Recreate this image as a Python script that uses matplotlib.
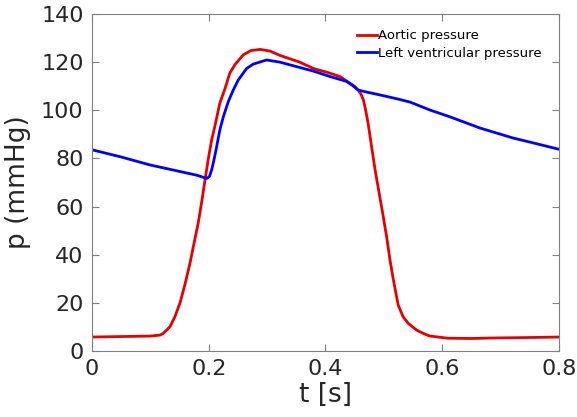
import matplotlib
matplotlib.use("Agg")
import matplotlib.pyplot as plt

# values
t_aortic = [0.0, 0.05, 0.10, 0.1165, 0.122, 0.128, 0.1336, 0.142, 0.1507, 0.159,
            0.168, 0.1736, 0.182, 0.188, 0.1936, 0.199, 0.205, 0.211, 0.219, 0.228,
            0.236, 0.245, 0.259, 0.272, 0.288, 0.305, 0.322, 0.356, 0.379, 0.408,
            0.425, 0.442, 0.450, 0.456, 0.461, 0.465, 0.469, 0.473, 0.479, 0.485,
            0.492, 0.499, 0.505, 0.511, 0.516, 0.5245, 0.533, 0.5417, 0.556, 0.5674,
            0.579, 0.61, 0.65, 0.687, 0.75, 0.8]
p_aortic = [5.8, 6.0, 6.2, 6.6, 7.3, 8.7, 10.1, 14.2, 19.9, 27.4,
            36.6, 43.3, 53.2, 62.0, 71.0, 79.4, 87.7, 93.9, 103.0, 109.1,
            115.4, 119.0, 123.0, 124.8, 125.3, 124.6, 122.8, 120.0, 117.4, 115.4,
            114.0, 111.2, 109.9, 108.4, 106.6, 104.3, 99.8, 94.6, 84.9, 75.2,
            65.5, 55.8, 47.0, 37.0, 30.0, 19.1, 14.2, 11.5, 8.7, 7.3,
            6.2, 5.3, 5.2, 5.4, 5.6, 5.8]

t_lv = [0.0, 0.05, 0.0994, 0.15, 0.18, 0.1965, 0.201, 0.205, 0.209, 0.2136,
        0.219, 0.225, 0.2335, 0.242, 0.2506, 0.265, 0.2764, 0.299, 0.322, 0.351,
        0.379, 0.408, 0.425, 0.436, 0.446, 0.456, 0.47, 0.493, 0.522, 0.545,
        0.579, 0.613, 0.665, 0.721, 0.76, 0.8]
p_lv = [83.6, 80.6, 77.3, 74.6, 73.0, 71.7, 72.4, 75.2, 79.4, 84.9,
        91.8, 97.3, 103.6, 108.4, 112.6, 117.4, 119.2, 120.9, 120.0, 118.1,
        116.3, 114.0, 112.8, 112.0, 110.4, 108.4, 107.6, 106.4, 104.8, 103.4,
        100.1, 97.3, 92.6, 88.5, 86.2, 83.8]

xticks = [0, 0.2, 0.4, 0.6, 0.8]
xticklabels = ["0", "0.2", "0.4", "0.6", "0.8"]
yticks = [0, 20, 40, 60, 80, 100, 120, 140]

fig = plt.figure(figsize=(5.77, 4.17), dpi=100)
ax = fig.add_axes([0.1594, 0.1583, 0.8094, 0.8081])

ax.plot(t_aortic, p_aortic, color="#e60000", lw=2.0, label="Aortic pressure")
ax.plot(t_lv, p_lv, color="#0000ff", lw=2.0, label="Left ventricular pressure")

ax.set_xlim(0, 0.8)
ax.set_ylim(0, 140)
ax.set_xticks(xticks)
ax.set_xticklabels(xticklabels)
ax.set_yticks(yticks)

for s in ax.spines.values():
    s.set_color("#808080")
    s.set_linewidth(0.8)
ax.tick_params(direction="in", top=True, right=True, length=5, width=0.8,
               color="#808080", labelsize=16, labelcolor="#262626", pad=6)

ax.set_xlabel("t [s]", fontsize=19, color="#262626", labelpad=2)
ax.set_ylabel("p (mmHg)", fontsize=19, color="#262626", labelpad=7)

ax.legend(loc="upper right", bbox_to_anchor=(0.963, 0.955), frameon=False,
          fontsize=9.5, handlelength=1.5, handletextpad=0.1,
          labelspacing=0.36, borderaxespad=0.0, borderpad=0.0)

fig.savefig("out.png", dpi=100)
